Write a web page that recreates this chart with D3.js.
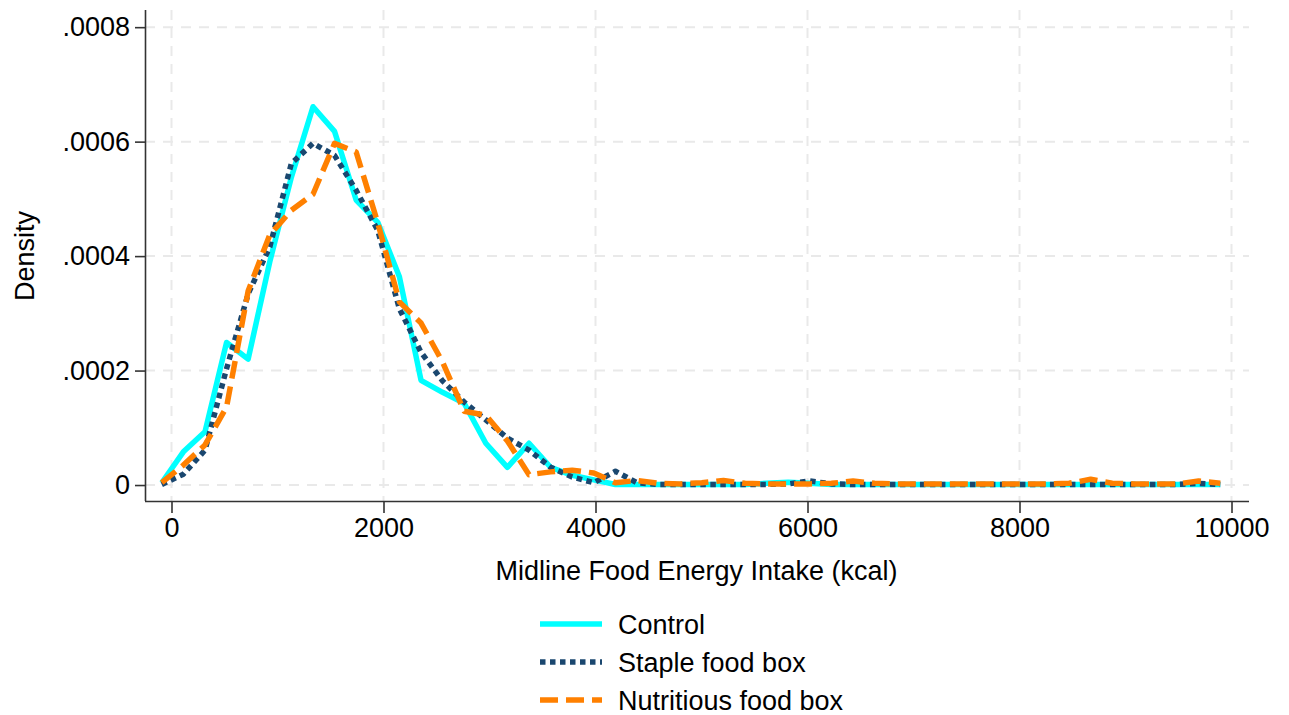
<!DOCTYPE html>
<html>
<head>
<meta charset="utf-8">
<script src="https://cdn.jsdelivr.net/npm/d3@7"></script>
<style>
  html, body { margin: 0; padding: 0; background: #fff; }
  svg { display: block; font-family: "Liberation Sans", Arial, Helvetica, sans-serif; }
</style>
</head>
<body>
<svg id="chart" width="1289" height="715"></svg>
<script>
// Kernel density evaluation points (kcal)
const kcal = [-92, 112, 316, 519, 723, 927, 1131, 1335, 1538, 1742,
  1946, 2150, 2354, 2557, 2761, 2965, 3169, 3373, 3576, 3780,
  3984, 4188, 4392, 4595, 4799, 5003, 5207, 5411, 5614, 5818,
  6022, 6226, 6430, 6633, 6837, 7041, 7245, 7449, 7652, 7856,
  8060, 8264, 8468, 8671, 8875, 9079, 9283, 9487, 9690, 9894];

// Estimated densities per group
const control = [0.000004, 0.000058, 0.000093, 0.000249, 0.000220, 0.000390, 0.000538, 0.000661, 0.000618, 0.000498,
  0.000459, 0.000364, 0.000183, 0.000162, 0.000143, 0.000073, 0.000031, 0.000073, 0.000031, 0.000017,
  0.000009, 0.000001, 0.000001, 0.000001, 0.000001, 0.000001, 0.000001, 0.000001, 0.000003, 0.000005,
  0.000003, 0.000001, 0.000001, 0.000001, 0.000001, 0.000001, 0.000001, 0.000001, 0.000001, 0.000001,
  0.000001, 0.000001, 0.000001, 0.000001, 0.000001, 0.000001, 0.000001, 0.000001, 0.000001, 0.000001];

const staple = [0.000001, 0.000019, 0.000061, 0.000203, 0.000334, 0.000416, 0.000562, 0.000597, 0.000576, 0.000515,
  0.000445, 0.000308, 0.000232, 0.000182, 0.000145, 0.000114, 0.000082, 0.000061, 0.000031, 0.000014,
  0.000004, 0.000024, 0.000004, 0.000001, 0.000001, 0.000001, 0.000001, 0.000001, 0.000001, 0.000002,
  0.000007, 0.000002, 0.000001, 0.000001, 0.000001, 0.000001, 0.000001, 0.000001, 0.000001, 0.000001,
  0.000001, 0.000001, 0.000001, 0.000001, 0.000001, 0.000001, 0.000001, 0.000001, 0.000003, 0.000001];

const nutritious = [0.000004, 0.000035, 0.000070, 0.000136, 0.000339, 0.000437, 0.000480, 0.000508, 0.000597, 0.000582,
  0.000458, 0.000320, 0.000283, 0.000215, 0.000129, 0.000122, 0.000077, 0.000018, 0.000023, 0.000026,
  0.000021, 0.000004, 0.000008, 0.000003, 0.000002, 0.000004, 0.000008, 0.000003, 0.000002, 0.000002,
  0.000002, 0.000003, 0.000007, 0.000003, 0.000002, 0.000002, 0.000002, 0.000002, 0.000002, 0.000002,
  0.000002, 0.000002, 0.000003, 0.000010, 0.000003, 0.000002, 0.000002, 0.000002, 0.000007, 0.000003];

const seriesNames = ["Control", "Staple food box", "Nutritious food box"];
const xTicks = [0, 2000, 4000, 6000, 8000, 10000];
const yTicks = [0, 0.0002, 0.0004, 0.0006, 0.0008];
const yTickLabels = ["0", ".0002", ".0004", ".0006", ".0008"];

const series = [
  { name: seriesNames[0], values: control,    color: "#00ffff", dash: null },
  { name: seriesNames[1], values: staple,     color: "#1a476f", dash: "5.5,4.5" },
  { name: seriesNames[2], values: nutritious, color: "#ff8000", dash: "18,8" }
];

const svg = d3.select("#chart");
const plot = { left: 145, right: 1249, top: 10, bottom: 501 };

const x = d3.scaleLinear().domain([-250, 10165]).range([plot.left, plot.right]);
const y = d3.scaleLinear().domain([-0.0000279, 0.00083]).range([plot.bottom, plot.top]);

// Gridlines
const grid = svg.append("g").attr("stroke", "#e9e9e9").attr("stroke-width", 2)
  .attr("stroke-dasharray", "10,8");
grid.selectAll("line.v").data(xTicks).join("line")
  .attr("x1", d => x(d)).attr("x2", d => x(d))
  .attr("y1", plot.top).attr("y2", plot.bottom);
grid.selectAll("line.h").data(yTicks).join("line")
  .attr("y1", d => y(d)).attr("y2", d => y(d))
  .attr("x1", plot.left).attr("x2", plot.right);

// Axes
const fontSize = 27;
const xAxis = svg.append("g").attr("transform", `translate(0,${plot.bottom})`)
  .call(d3.axisBottom(x).tickValues(xTicks).tickSize(12).tickPadding(5).tickFormat(d3.format("d")));
const yAxis = svg.append("g").attr("transform", `translate(${plot.left},0)`)
  .call(d3.axisLeft(y).tickValues(yTicks).tickSize(10).tickPadding(5)
    .tickFormat((d, i) => yTickLabels[i]));
[xAxis, yAxis].forEach(a => {
  a.select(".domain").attr("stroke", "#333").attr("stroke-width", 1.6);
  a.selectAll(".tick line").attr("stroke", "#333").attr("stroke-width", 1.6);
  a.selectAll(".tick text").attr("fill", "#000").style("font-size", fontSize + "px")
    .style("font-family", "'Liberation Sans', Arial, sans-serif");
});
xAxis.select(".domain").attr("d", `M${plot.left},0.5H${plot.right}`);
yAxis.select(".domain").attr("d", `M0.5,${plot.top}V${plot.bottom}`);

// Axis titles
svg.append("text").attr("x", (x(0) + x(10000)) / 2 - 5).attr("y", 580)
  .attr("text-anchor", "middle").style("font-size", fontSize + "px")
  .text("Midline Food Energy Intake (kcal)");
svg.append("text").attr("transform", "translate(34,256) rotate(-90)")
  .attr("text-anchor", "middle").style("font-size", fontSize + "px")
  .text("Density");

// Density curves
const line = d3.line().x((d, i) => x(kcal[i])).y(d => y(d));
svg.append("g").selectAll("path").data(series).join("path")
  .attr("d", d => line(d.values))
  .attr("fill", "none")
  .attr("stroke", d => d.color)
  .attr("stroke-width", 5.5)
  .attr("stroke-linejoin", "round")
  .attr("stroke-dasharray", d => d.dash);

// Legend
const legend = svg.append("g");
const rows = legend.selectAll("g").data(series).join("g")
  .attr("transform", (d, i) => `translate(540,${624 + i * 38})`);
rows.append("line").attr("x1", 0).attr("x2", 62).attr("y1", 0).attr("y2", 0)
  .attr("stroke", d => d.color).attr("stroke-width", 5.5)
  .attr("stroke-dasharray", d => d.dash);
rows.append("text").attr("x", 78).attr("y", 9.5).style("font-size", fontSize + "px")
  .text(d => d.name);
</script>
</body>
</html>
